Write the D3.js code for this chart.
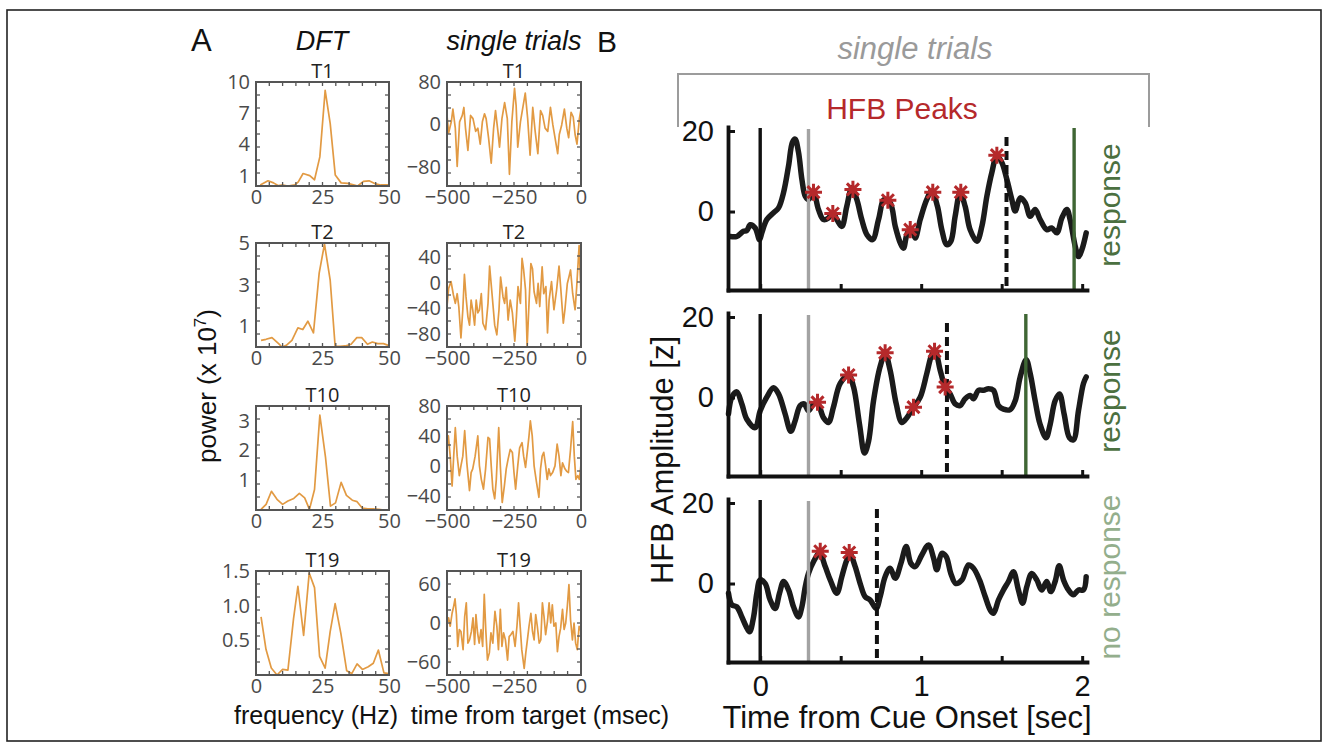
<!DOCTYPE html>
<html><head><meta charset="utf-8">
<script src="https://cdn.jsdelivr.net/npm/d3@7"></script>
<style>body{margin:0;background:#fff}svg{display:block}</style>
</head><body>
<svg id="c" width="1328" height="748"></svg>
<script>
// ---------------- Panel A data ----------------
const trialNames = ["T1", "T2", "T10", "T19"];

const dftFreqT1 = [1.6,4.5,6.6,8.4,9.7,12,14.6,15.9,17.7,20.2,22,24,26,27.9,29.8,32,34.5,37,38.2,40.4,42.5,45,46.9,50];
const dftPowT1  = [0.1,0.5,0.3,0.03,0.1,0,0.1,0.4,1.2,1.0,0.6,2.8,9.2,6.0,1.05,0.3,0.25,0.1,0,0.45,0.5,0.2,0.1,0.1];
const dftFreqT2 = [1.9,3.75,6,8.5,9.75,11.4,13.5,15.75,17.6,19.5,21.6,23.75,25.75,27.9,29.75,31.6,33.5,35.75,37.9,39.75,41.9,43.75,45.75,47.9,49.75];
const dftPowT2  = [0.32,0.37,0.45,0.16,0,0.08,0.32,0.92,0.84,1.24,0.68,3.55,4.95,3.2,0.03,0.03,0.05,0.13,0.45,0.45,0.13,0.24,0.16,0.16,0.08];
const dftFreqT10 = [1.9,3.8,5.8,7.9,10,12,14.2,16.3,18.3,20.1,22,24,26.1,28,29.9,32,34,36.2,38,40,42,44,46.2,48,50];
const dftPowT10  = [0.02,0.19,0.63,0.36,0.19,0.3,0.39,0.56,0.41,0.02,0.69,3.19,1.8,0.13,0.24,0.93,0.49,0.33,0.28,0.06,0.04,0.04,0.02,0,0];
const dftFreqT19 = [1.9,3.75,5.75,7.9,10,12,14.1,15.75,17.9,20,22,23.9,26,27.9,29.75,31.9,34.1,36,38,40,42.2,44.1,46,48.1,50];
const dftPowT19  = [0.84,0.37,0.1,0,0.08,0.07,0.81,1.28,0.57,1.47,1.26,0.27,0.1,0.63,1.03,0.6,0.06,0.02,0.16,0.08,0.12,0.17,0.36,0.03,0.02];

const dftYMax = [10, 5, 3.5, 1.5];
const dftYTicks = [[1,4,7,10],[1,3,5],[1,2,3],[0.5,1.0,1.5]];
const freqTicks = [0, 25, 50];

const stTimeT1 = [-500,-494,-484,-478,-469,-462,-453,-443,-437,-431,-422,-412,-403,-393,-385,-376,-368,-360,-354,-345,-335,-326,-319,-310,-304,-295,-285,-275,-267,-258,-248,-242,-236,-226,-208,-199,-190,-180,-171,-161,-151,-143,-134,-124,-114,-105,-97,-87,-81,-72,-62,-53,-46,-37,-29,-22,-15,-6,0];
const stAmpT1  = [17,-16,5,29,-7,-79,5,17,32,-7,-49,17,11,-13,-7,-37,5,20,11,-25,-73,-7,26,-13,-43,11,41,11,-94,5,68,35,-43,5,59,11,-58,32,-13,-55,26,17,-7,-13,32,-1,-25,-55,-19,-1,29,-7,-25,23,14,-19,-37,11,29];
const stTimeT2 = [-500,-494,-485,-476,-469,-462,-456,-448,-441,-435,-429,-422,-416,-410,-404,-397,-391,-385,-379,-372,-366,-356,-347,-341,-332,-322,-314,-306,-300,-291,-285,-279,-272,-264,-256,-247,-241,-235,-226,-220,-214,-207,-201,-194,-187,-181,-175,-166,-160,-154,-145,-139,-131,-125,-119,-110,-101,-91,-82,-76,-66,-60,-51,-45,-39,-31,-22,-16,-7,0];
const stAmpT2  = [-37,-9,2,-19,-32,-17,-37,-86,-42,13,-22,-53,-66,-27,-42,-66,-27,-47,-42,-17,-63,-73,-32,26,-17,-66,-81,-42,9,-22,-32,-7,-58,-27,-47,-91,-53,-6,-32,38,20,-11,-99,-32,30,22,-14,-32,-1,-37,25,-17,-6,-78,-27,2,-42,-11,26,-6,-63,-42,-1,9,20,-17,-42,-6,58,-19];
const stTimeT10 = [-500,-495,-488,-481,-475,-469,-462,-454,-448,-441,-434,-426,-416,-410,-404,-395,-385,-379,-372,-364,-356,-347,-341,-335,-329,-322,-316,-307,-301,-294,-286,-279,-272,-264,-256,-250,-244,-236,-229,-220,-214,-207,-200,-194,-189,-182,-175,-166,-157,-151,-145,-139,-132,-126,-120,-114,-106,-97,-89,-82,-75,-69,-60,-54,-47,-39,-31,-25,-19,-12,-6,0];
const stAmpT10  = [24,40,13,-27,13,51,13,-13,0,13,47,4,-33,-9,-4,13,40,0,-18,-31,-4,38,36,0,-31,-44,-18,51,0,-49,-27,-4,9,22,18,-9,-31,0,24,31,13,-2,20,40,60,40,0,-22,-42,-4,13,18,0,-18,-4,-13,-9,0,29,13,-13,4,-4,-7,-9,22,59,13,-18,-13,-18,2];
const stTimeT19 = [-500,-494,-488,-481,-475,-470,-465,-460,-454,-448,-440,-434,-428,-422,-416,-409,-403,-397,-392,-386,-380,-373,-367,-361,-355,-349,-342,-336,-329,-321,-314,-308,-301,-295,-289,-282,-274,-268,-262,-254,-246,-239,-233,-227,-221,-212,-206,-200,-194,-187,-181,-175,-169,-163,-156,-150,-144,-138,-132,-125,-119,-113,-107,-101,-94,-88,-82,-76,-69,-63,-57,-51,-45,-39,-32,-26,-20,-14,-7,0];
const stAmpT19  = [0,8,-5,15,26,37,13,-36,-10,-13,-41,10,31,-31,-26,-13,8,-33,13,-15,-31,-10,-36,44,-13,-57,-46,-15,-31,18,-5,-41,21,-36,-15,-26,-57,-21,-18,-13,-36,-5,31,-5,-41,-70,-46,-26,-5,15,-13,-26,13,-5,-31,-26,31,10,-18,3,31,0,28,-5,0,-44,-21,-8,21,-10,0,26,59,5,-26,0,-31,-41,-5,-13];

const stYDomain = [[-116,80],[-100,62],[-59,80],[-80,80]];
const stYTicks = [[-80,0,80],[-80,-40,0,40],[-40,0,40,80],[-60,0,60]];
const timeTicks = [-500, -250, 0];

// ---------------- Panel B data ----------------
const hfbTimeR1 = [-0.186,-0.145,-0.104,-0.083,-0.062,-0.031,-0.004,0.01,0.041,0.083,0.114,0.145,0.176,0.2,0.217,0.238,0.259,0.28,0.3,0.331,0.362,0.393,0.424,0.451,0.476,0.507,0.538,0.569,0.6,0.631,0.663,0.698,0.735,0.77,0.807,0.839,0.87,0.89,0.915,0.942,0.963,0.994,1.035,1.066,1.101,1.128,1.159,1.184,1.211,1.242,1.273,1.304,1.346,1.377,1.408,1.439,1.47,1.501,1.532,1.563,1.584,1.615,1.646,1.677,1.708,1.739,1.78,1.811,1.843,1.874,1.905,1.925,1.957,1.977,1.998,2.025];
const hfbAmpR1  = [-6.2,-6.2,-4.9,-4.7,-3.3,-4.1,-7,-5.3,-2,-0.3,0.9,4.7,11.3,17.2,18,14.7,8,3.8,3,4.7,0.5,-2,-1.6,-0.3,-2,-3.7,1.3,5.9,3,-2,-5.75,-7,-2,3,2.2,-3.7,-7.8,-9.1,-5.3,-4.5,-6.6,-2,3,5.1,1.3,-4.5,-8.25,-7.4,-1.2,4.7,1.3,-4.5,-7.4,-3.7,3.8,9.7,13.8,12.2,8,3,0.1,3.4,2.2,-1.2,0.5,-2,-4.5,-4.1,-5.3,-1.6,0.5,-2,-8.7,-11.2,-9.5,-5.3];
const hfbTimeR2 = [-0.197,-0.176,-0.145,-0.114,-0.083,-0.031,0,0.041,0.083,0.114,0.155,0.19,0.217,0.248,0.273,0.3,0.331,0.356,0.393,0.424,0.455,0.497,0.549,0.58,0.617,0.648,0.673,0.704,0.745,0.776,0.807,0.845,0.88,0.911,0.952,0.994,1.035,1.066,1.087,1.118,1.149,1.18,1.211,1.242,1.273,1.304,1.325,1.356,1.387,1.418,1.449,1.48,1.511,1.553,1.584,1.615,1.652,1.677,1.708,1.739,1.776,1.801,1.832,1.859,1.888,1.921,1.946,1.977,2.008,2.025];
const hfbAmpR2  = [-4.1,0.1,1.4,-1.6,-5.4,-7.5,-3.3,0.1,2.4,0.9,-4.1,-8.4,-5.8,-2,-1.6,-3.3,-1.6,-1.4,-5,-6.2,-2.4,3.5,5.6,2.6,-6.7,-13.8,-10.9,-0.8,7.7,10.9,6.8,-1.6,-6.2,-5,-2.4,0.1,6,10.6,11.5,6.8,2.6,0.9,-1.6,-2,-0.3,0.5,-0.3,1.8,1.8,2.2,1.8,-2,-2.9,-3,-0.8,5.1,9.4,6,-0.8,-6.7,-10,-6.7,-0.8,0.9,-4.1,-10,-10.5,-3.3,3.5,5.1];
const hfbTimeR3 = [-0.197,-0.176,-0.145,-0.114,-0.087,-0.066,-0.041,-0.021,0,0.031,0.062,0.093,0.12,0.145,0.176,0.207,0.238,0.259,0.28,0.3,0.331,0.369,0.404,0.435,0.476,0.507,0.538,0.559,0.59,0.621,0.652,0.683,0.72,0.745,0.776,0.807,0.839,0.874,0.907,0.936,0.963,1.004,1.046,1.077,1.097,1.128,1.155,1.184,1.215,1.253,1.294,1.325,1.362,1.398,1.429,1.449,1.48,1.511,1.542,1.573,1.604,1.63,1.656,1.687,1.718,1.749,1.78,1.805,1.832,1.857,1.884,1.915,1.946,1.977,2.008,2.025];
const hfbAmpR3  = [-2.4,-5.3,-5.8,-8.3,-10.7,-12,-8.3,-2.4,0.9,0,-4.1,-6.2,-2.4,0.5,-1.6,-5.8,-8.3,-5.8,-0.8,2.5,5.4,7.6,4.2,0.9,-2.4,1.7,5.8,7.2,4.2,0,-3.3,-4.1,-6.2,-3.3,1.7,3.8,1.3,5,9.2,5,4.2,7.1,9.6,6.3,3.4,7.5,6.7,2.5,0,0.9,4.6,3.8,0.9,-3.3,-6.6,-7.4,-4.1,-1.6,0.5,2.9,-1.6,-4.9,-0.8,2.5,0.9,-1.6,0.5,-2,0.5,4.4,0.9,-1.6,-2.8,-1.6,-1.6,1.7];

const peakTimeR1 = [0.331,0.451,0.576,0.793,0.932,1.072,1.246,1.47];
const peakAmpR1  = [4.8,-0.5,5.5,2.8,-4.5,4.8,4.8,14];
const peakTimeR2 = [0.356,0.549,0.776,0.952,1.083,1.149];
const peakAmpR2  = [-1.2,5.6,11.1,-2.4,11.5,2.6];
const peakTimeR3 = [0.373,0.553];
const peakAmpR3  = [8.0,7.7];

const cueTime = 0;
const grayTime = 0.3;
const dashedTimes = [1.53, 1.16, 0.725];
const responseTimes = [1.95, 1.65, null];
const trialOutcome = ["response", "response", "no response"];
const hfbYTicks = [0, 20];
const hfbXTicks = [0, 0.5, 1, 1.5, 2];
const hfbXLabels = [0, 1, 2];

// ---------------- Drawing ----------------
const svg = d3.select("#c");
const ORANGE = "#e29a43";
const BOXC = "#555";
const SANS = "'Liberation Sans', Arial, Helvetica, sans-serif";
const TICKF = "'Open Sans', 'Liberation Sans', sans-serif";

svg.append("rect").attr("x", 7).attr("y", 10).attr("width", 1314).attr("height", 731)
  .attr("fill", "none").attr("stroke", "#222").attr("stroke-width", 1.6);

const dftData = [[dftFreqT1, dftPowT1], [dftFreqT2, dftPowT2], [dftFreqT10, dftPowT10], [dftFreqT19, dftPowT19]];
const stData = [[stTimeT1, stAmpT1], [stTimeT2, stAmpT2], [stTimeT10, stAmpT10], [stTimeT19, stAmpT19]];

const rowTop = [82, 243, 406, 571];
const rowH = 104;
const colDFT = [256, 389];
const colST = [447, 581];

function boxPanel(cx, top, xDom, yDom, xs, ys, yTicks, yFmt, xMinorStep, title) {
  const g = svg.append("g");
  const x = d3.scaleLinear().domain(xDom).range(cx);
  const y = d3.scaleLinear().domain(yDom).range([top + rowH, top]);
  g.append("path")
    .datum(d3.zip(xs, ys))
    .attr("fill", "none").attr("stroke", ORANGE).attr("stroke-width", 1.7)
    .attr("stroke-linejoin", "round")
    .attr("d", d3.line().x(d => x(d[0])).y(d => y(d[1])));
  const mx = d3.range(xDom[0] + xMinorStep, xDom[1] - 1e-9, xMinorStep);
  const my = d3.range(1, 8).map(i => yDom[0] + i * (yDom[1] - yDom[0]) / 8);
  const tl = 4;
  mx.forEach(v => {
    g.append("line").attr("x1", x(v)).attr("x2", x(v)).attr("y1", top).attr("y2", top + tl).attr("stroke", BOXC).attr("stroke-width", 1.3);
    g.append("line").attr("x1", x(v)).attr("x2", x(v)).attr("y1", top + rowH).attr("y2", top + rowH - tl).attr("stroke", BOXC).attr("stroke-width", 1.3);
  });
  my.forEach(v => {
    g.append("line").attr("x1", cx[0]).attr("x2", cx[0] + tl).attr("y1", y(v)).attr("y2", y(v)).attr("stroke", BOXC).attr("stroke-width", 1.3);
    g.append("line").attr("x1", cx[1]).attr("x2", cx[1] - tl).attr("y1", y(v)).attr("y2", y(v)).attr("stroke", BOXC).attr("stroke-width", 1.3);
  });
  g.append("rect").attr("x", cx[0]).attr("y", top).attr("width", cx[1] - cx[0]).attr("height", rowH)
    .attr("fill", "none").attr("stroke", BOXC).attr("stroke-width", 2);
  const ya = g.append("g").attr("transform", `translate(${cx[0]},0)`)
    .call(d3.axisLeft(y).tickValues(yTicks).tickSize(0).tickPadding(6).tickFormat(yFmt));
  ya.select(".domain").remove();
  const xa = g.append("g").attr("transform", `translate(0,${top + rowH})`)
    .call(d3.axisBottom(x).tickValues(xDom[0] < 0 ? timeTicks : freqTicks).tickSize(0).tickPadding(4)
      .tickFormat(d => d < 0 ? "\u2212" + Math.abs(d) : String(d)));
  xa.select(".domain").remove();
  g.selectAll(".tick text").attr("fill", "#4a4a4a").attr("font-family", TICKF).attr("font-size", 20);
  g.append("text").attr("x", (cx[0] + cx[1]) / 2).attr("y", top - 4).attr("text-anchor", "middle")
    .attr("font-family", TICKF).attr("font-size", 20).attr("fill", "#222").text(title);
}

trialNames.forEach((name, i) => {
  const fmt = i === 3 ? d3.format(".1f") : d3.format("d");
  boxPanel(colDFT, rowTop[i], [0, 50], [0, dftYMax[i]], dftData[i][0], dftData[i][1], dftYTicks[i], fmt, 5, name);
  boxPanel(colST, rowTop[i], [-500, 0], stYDomain[i], stData[i][0], stData[i][1], stYTicks[i],
    d => d < 0 ? "\u2212" + Math.abs(d) : String(d), 50, name);
});

// Panel A labels
svg.append("text").attr("x", 191).attr("y", 51).attr("font-family", SANS).attr("font-size", 31).attr("fill", "#111").text("A");
svg.append("text").attr("x", 322).attr("y", 50).attr("text-anchor", "middle").attr("font-family", SANS)
  .attr("font-style", "italic").attr("font-size", 27).attr("fill", "#111").text("DFT");
svg.append("text").attr("x", 514).attr("y", 50).attr("text-anchor", "middle").attr("font-family", SANS)
  .attr("font-style", "italic").attr("font-size", 27).attr("fill", "#111").text("single trials");
const pw = svg.append("text").attr("transform", "translate(216,386) rotate(-90)").attr("text-anchor", "middle")
  .attr("font-family", SANS).attr("font-size", 26).attr("fill", "#111");
pw.append("tspan").text("power (x 10");
pw.append("tspan").attr("dy", -10).attr("font-size", 17).text("7");
pw.append("tspan").attr("dy", 10).text(")");
svg.append("text").attr("x", 316).attr("y", 724).attr("text-anchor", "middle").attr("font-family", SANS)
  .attr("font-size", 25).attr("fill", "#111").text("frequency (Hz)");
svg.append("text").attr("x", 540).attr("y", 724).attr("text-anchor", "middle").attr("font-family", SANS)
  .attr("font-size", 25).attr("fill", "#111").text("time from target (msec)");

// ---------------- Panel B ----------------
const bX = d3.scaleLinear().domain([-0.2, 2.03]).range([728, 1087]);
const bTop = [127, 313, 499];
const bH = 163;
const bYDom = [-19.5, 21];
const hfbData = [[hfbTimeR1, hfbAmpR1], [hfbTimeR2, hfbAmpR2], [hfbTimeR3, hfbAmpR3]];
const peakData = [[peakTimeR1, peakAmpR1], [peakTimeR2, peakAmpR2], [peakTimeR3, peakAmpR3]];
const RED = "#b5292b";
const GREEN = "#3f6634";

const asterisk = {
  draw(ctx, size) {
    const r = Math.sqrt(size) / 2, d = r * 0.7071;
    ctx.moveTo(-r, 0); ctx.lineTo(r, 0);
    ctx.moveTo(0, -r); ctx.lineTo(0, r);
    ctx.moveTo(-d, -d); ctx.lineTo(d, d);
    ctx.moveTo(-d, d); ctx.lineTo(d, -d);
  }
};

hfbData.forEach((dat, i) => {
  const top = bTop[i];
  const y = d3.scaleLinear().domain(bYDom).range([top + bH, top]);
  const g = svg.append("g");
  g.append("path").datum(d3.zip(dat[0], dat[1]))
    .attr("fill", "none").attr("stroke", "#1b1b1b").attr("stroke-width", 5.5)
    .attr("stroke-linejoin", "round").attr("stroke-linecap", "round")
    .attr("d", d3.line().curve(d3.curveCatmullRom).x(d => bX(d[0])).y(d => y(d[1])));
  g.append("line").attr("x1", bX(cueTime)).attr("x2", bX(cueTime)).attr("y1", top + 1).attr("y2", top + bH)
    .attr("stroke", "#111").attr("stroke-width", 3.4);
  g.append("line").attr("x1", bX(grayTime)).attr("x2", bX(grayTime)).attr("y1", top + 2).attr("y2", top + bH)
    .attr("stroke", "#a3a3a3").attr("stroke-width", 3.4);
  g.append("line").attr("x1", bX(dashedTimes[i])).attr("x2", bX(dashedTimes[i])).attr("y1", top + 10).attr("y2", top + bH)
    .attr("stroke", "#111").attr("stroke-width", 4).attr("stroke-dasharray", "9,5");
  if (responseTimes[i] !== null) {
    g.append("line").attr("x1", bX(responseTimes[i])).attr("x2", bX(responseTimes[i])).attr("y1", top + 1).attr("y2", top + bH)
      .attr("stroke", GREEN).attr("stroke-width", 3.4);
  }
  g.selectAll(".pk").data(d3.zip(peakData[i][0], peakData[i][1])).join("path")
    .attr("transform", d => `translate(${bX(d[0])},${y(d[1])})`)
    .attr("d", d3.symbol().type(asterisk).size(290)())
    .attr("fill", "none").attr("stroke", RED).attr("stroke-width", 3);
  const ya = g.append("g").attr("transform", `translate(${bX.range()[0]},0)`)
    .call(d3.axisLeft(y).tickValues(hfbYTicks).tickSizeInner(-7).tickSizeOuter(0).tickPadding(14));
  const xa = g.append("g").attr("transform", `translate(0,${top + bH})`)
    .call(d3.axisBottom(bX).tickValues(hfbXTicks).tickSizeInner(-6).tickSizeOuter(0).tickPadding(13)
      .tickFormat(d => (i === 2 && hfbXLabels.includes(d)) ? String(d) : ""));
  [ya, xa].forEach(a => {
    a.select(".domain").attr("stroke", "#111").attr("stroke-width", 3.8).attr("stroke-linecap", "square");
    a.selectAll(".tick line").attr("stroke", "#111").attr("stroke-width", 3);
    a.selectAll(".tick text").attr("fill", "#111").attr("font-family", SANS).attr("font-size", 29);
  });
  svg.append("text").attr("transform", `translate(1120,${top + 78}) rotate(-90)`).attr("text-anchor", "middle")
    .attr("font-family", SANS).attr("font-size", 30)
    .attr("fill", trialOutcome[i] === "response" ? "#4b7040" : "#93ae8c").text(trialOutcome[i]);
});

svg.append("text").attr("x", 597).attr("y", 52).attr("font-family", SANS).attr("font-size", 30).attr("fill", "#111").text("B");
svg.append("path").attr("d", "M678,127 L678,74 L1149,74 L1149,127").attr("fill", "none")
  .attr("stroke", "#9c9c9c").attr("stroke-width", 2);
svg.append("text").attr("x", 915).attr("y", 59).attr("text-anchor", "middle").attr("font-family", SANS)
  .attr("font-style", "italic").attr("font-size", 31).attr("fill", "#9a9a9a").text("single trials");
svg.append("text").attr("x", 902).attr("y", 119).attr("text-anchor", "middle").attr("font-family", SANS)
  .attr("font-size", 30).attr("fill", RED).text("HFB Peaks");
svg.append("text").attr("transform", "translate(673,460) rotate(-90)").attr("text-anchor", "middle")
  .attr("font-family", SANS).attr("font-size", 31).attr("fill", "#111").text("HFB Amplitude [z]");
svg.append("text").attr("x", 907).attr("y", 728).attr("text-anchor", "middle").attr("font-family", SANS)
  .attr("font-size", 31).attr("fill", "#111").text("Time from Cue Onset [sec]");
</script>
</body></html>
